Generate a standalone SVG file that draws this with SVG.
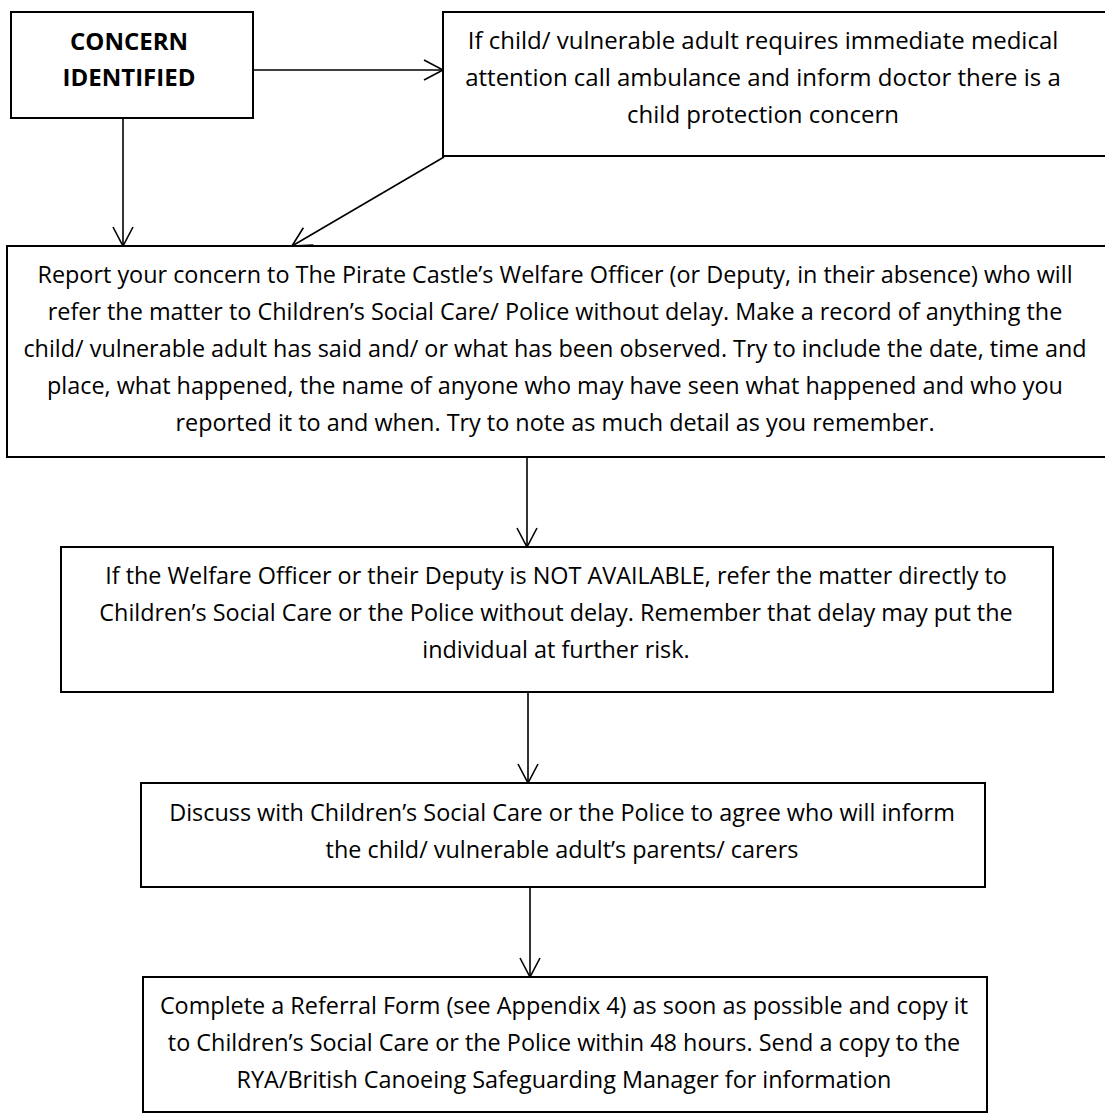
<svg xmlns="http://www.w3.org/2000/svg" width="1105" height="1118" viewBox="0 0 1105 1118">
<defs>
<style>
.box{fill:#fff;stroke:#000;stroke-width:2}
.t{font-family:"Open Sans","Noto Sans","Liberation Sans",sans-serif;font-size:23.4px;fill:#000;text-anchor:middle}
.b{font-weight:bold;font-size:24px}
.l{font-size:24px}
.c{fill:none;stroke:#000;stroke-width:1.6}
</style>
<marker id="ah" markerUnits="userSpaceOnUse" viewBox="-21 -12 23 24" markerWidth="23" markerHeight="24" refX="0" refY="0" orient="auto">
<path d="M-19,-10 L0,0 L-19,10" fill="none" stroke="#000" stroke-width="1.6"/>
</marker>
</defs>
<rect width="1105" height="1118" fill="#fff"/>
<g id="connectors">
<line class="c" x1="253" y1="70" x2="443" y2="70" marker-end="url(#ah)"/>
<line class="c" x1="123" y1="118" x2="123" y2="246" marker-end="url(#ah)"/>
<line class="c" x1="444" y1="157" x2="292" y2="246" marker-end="url(#ah)"/>
<line class="c" x1="527" y1="457" x2="527" y2="547" marker-end="url(#ah)"/>
<line class="c" x1="528" y1="692" x2="528" y2="783" marker-end="url(#ah)"/>
<line class="c" x1="530" y1="887" x2="530" y2="977" marker-end="url(#ah)"/>
</g>
<g id="n1">
<rect class="box" x="11" y="12" width="242" height="106"/>
<text class="t b" x="129" y="50">CONCERN</text>
<text class="t b" x="129" y="86">IDENTIFIED</text>
</g>
<g id="n2">
<rect class="box" x="443" y="12" width="680" height="144"/>
<text class="t l" x="763" y="49">If child/ vulnerable adult requires immediate medical</text>
<text class="t l" x="763" y="86">attention call ambulance and inform doctor there is a</text>
<text class="t l" x="763" y="123">child protection concern</text>
</g>
<g id="n3">
<rect class="box" x="7" y="246" width="1116" height="211"/>
<text class="t" x="555" y="283">Report your concern to The Pirate Castle’s Welfare Officer (or Deputy, in their absence) who will</text>
<text class="t" x="555" y="320">refer the matter to Children’s Social Care/ Police without delay. Make a record of anything the</text>
<text class="t" x="555" y="357">child/ vulnerable adult has said and/ or what has been observed. Try to include the date, time and</text>
<text class="t" x="555" y="394">place, what happened, the name of anyone who may have seen what happened and who you</text>
<text class="t" x="555" y="431">reported it to and when. Try to note as much detail as you remember.</text>
</g>
<g id="n4">
<rect class="box" x="61" y="547" width="992" height="145"/>
<text class="t" x="556" y="584">If the Welfare Officer or their Deputy is NOT AVAILABLE, refer the matter directly to</text>
<text class="t" x="556" y="621">Children’s Social Care or the Police without delay. Remember that delay may put the</text>
<text class="t" x="556" y="658">individual at further risk.</text>
</g>
<g id="n5">
<rect class="box" x="141" y="783" width="844" height="104"/>
<text class="t" x="562" y="821">Discuss with Children’s Social Care or the Police to agree who will inform</text>
<text class="t" x="562" y="858">the child/ vulnerable adult’s parents/ carers</text>
</g>
<g id="n6">
<rect class="box" x="143" y="977" width="844" height="135"/>
<text class="t" x="564" y="1014">Complete a Referral Form (see Appendix 4) as soon as possible and copy it</text>
<text class="t" x="564" y="1051">to Children’s Social Care or the Police within 48 hours. Send a copy to the</text>
<text class="t" x="564" y="1088">RYA/British Canoeing Safeguarding Manager for information</text>
</g>
</svg>
